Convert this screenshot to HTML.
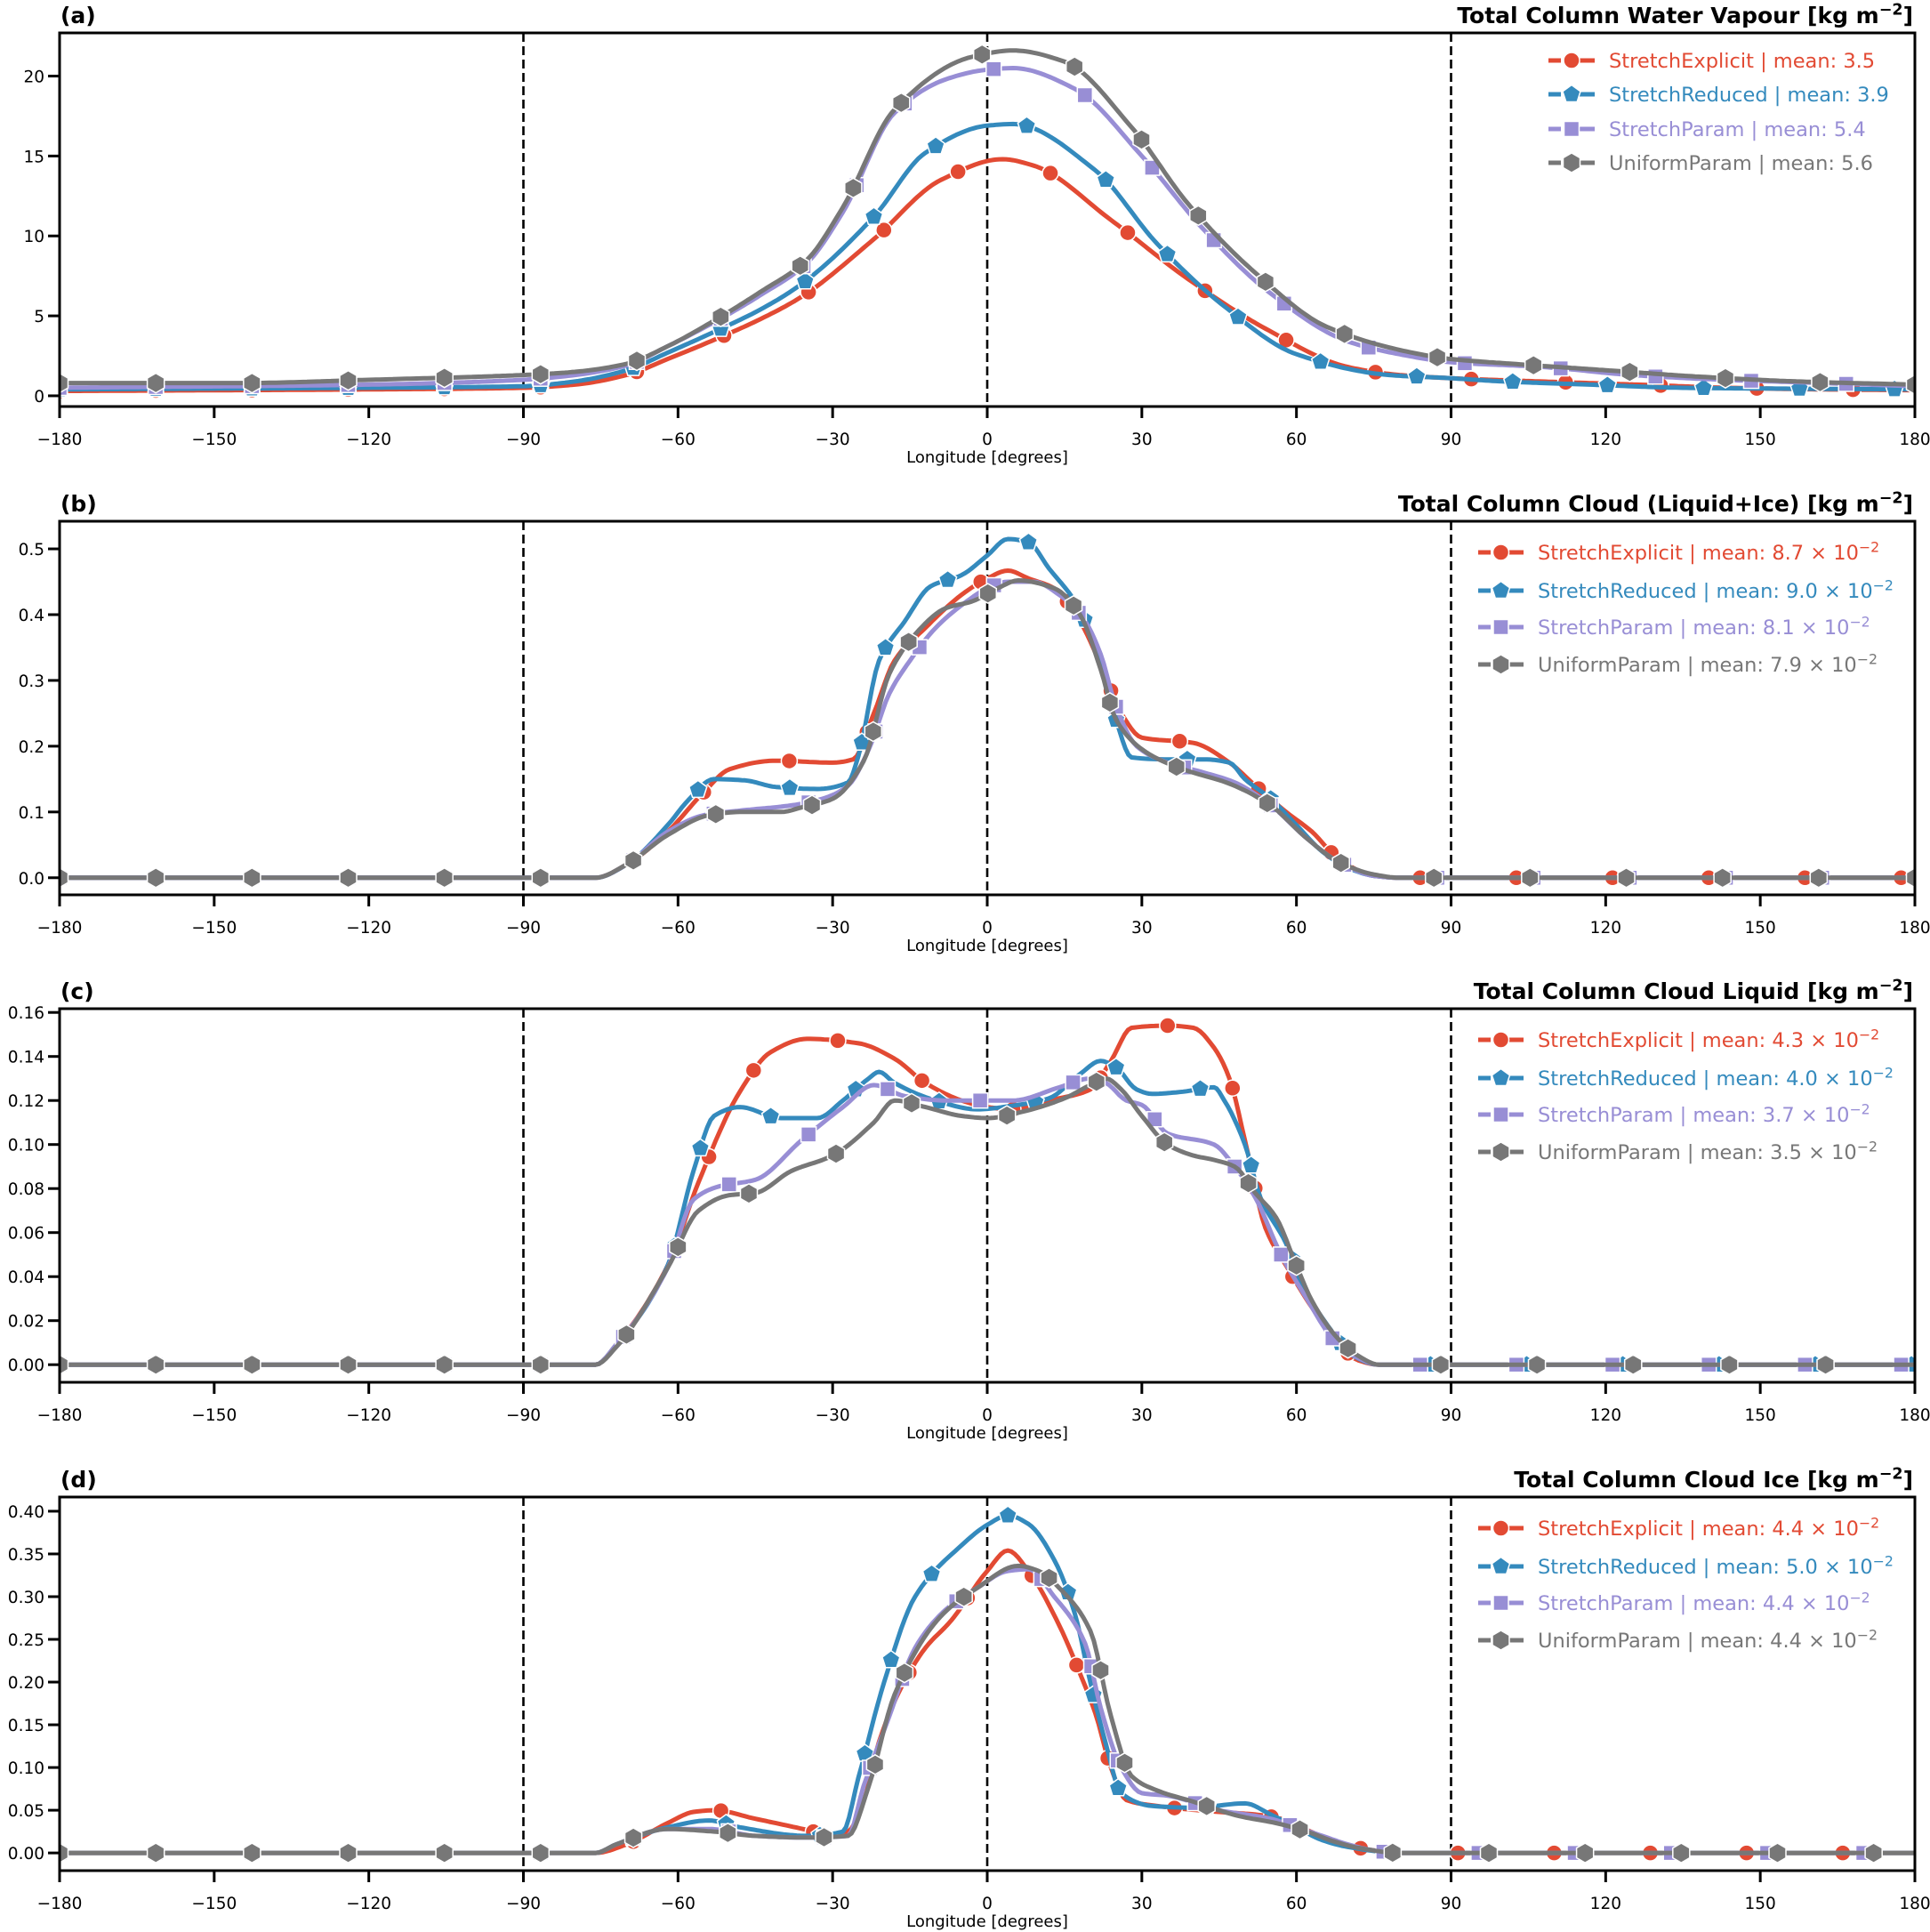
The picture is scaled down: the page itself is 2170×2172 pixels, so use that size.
<!DOCTYPE html>
<html><head><meta charset="utf-8"><style>
html,body{margin:0;padding:0;background:#fff;}
svg{display:block;font-family:"DejaVu Sans","Liberation Sans",sans-serif;}
</style></head><body>
<svg id="fig" width="2170" height="2172" viewBox="0 0 2170 2172" xmlns="http://www.w3.org/2000/svg"></svg>
<script>
// ---------- data ----------
const xTicks = [-180,-150,-120,-90,-60,-30,0,30,60,90,120,150,180];
const vLines = [-90,0,90];
const seriesNames = ["StretchExplicit","StretchReduced","StretchParam","UniformParam"];
const panelLetters = ["(a)","(b)","(c)","(d)"];
const panelTitles = ["Total Column Water Vapour","Total Column Cloud (Liquid+Ice)","Total Column Cloud Liquid","Total Column Cloud Ice"];
const meansA = ["3.5","3.9","5.4","5.6"];
const meansB = ["8.7","9.0","8.1","7.9"];
const meansC = ["4.3","4.0","3.7","3.5"];
const meansD = ["4.4","5.0","4.4","4.4"];
const yTicksA = [0,5,10,15,20];
const yTicksB = [0,0.1,0.2,0.3,0.4,0.5];
const yTicksC = [0,0.02,0.04,0.06,0.08,0.10,0.12,0.14,0.16];
const yTicksD = [0,0.05,0.10,0.15,0.20,0.25,0.30,0.35,0.40];
const yLimA = [-0.67,22.7];
const yLimB = [-0.026,0.542];
const yLimC = [-0.008,0.1617];
const yLimD = [-0.0207,0.4166];

// Panel (a)
const aRedLon = [-180,-120,-90,-80,-70,-62,-53,-44,-36,-22,-9,3,9,24,39,54,70,80,90,107,126,144,162,180];
const aRedVal = [0.3,0.4,0.5,0.7,1.3,2.3,3.5,4.8,6.2,9.8,13.5,14.8,14.4,11.0,7.3,4.2,1.8,1.3,1.1,0.9,0.7,0.5,0.4,0.35];
const aBluLon = [-180,-120,-90,-80,-70,-62,-53,-44,-36,-22,-12,0,5,21,33,46,60,78,90,100,117,135,153,180];
const aBluVal = [0.4,0.5,0.6,0.9,1.6,2.7,4.0,5.4,7.0,11.2,15.2,16.9,17.0,14.1,9.5,5.6,2.6,1.3,1.1,0.9,0.7,0.5,0.45,0.4];
const aPurLon = [-180,-120,-90,-80,-70,-62,-53,-44,-35,-28,-18,-8,0,5,17,30,42,55,70,80,90,108,125,143,162,180];
const aPurVal = [0.5,0.7,1.0,1.3,1.9,3.1,4.6,6.3,8.3,11.5,17.7,19.8,20.4,20.5,19.2,15.0,10.4,6.4,3.4,2.6,2.1,1.8,1.3,1.0,0.8,0.6];
const aGryLon = [-180,-144,-120,-90,-80,-70,-62,-53,-44,-35,-28,-18,-3,5,15,28,39,52,66,84,90,102,120,138,157,180];
const aGryVal = [0.8,0.8,1.0,1.3,1.5,2.0,3.1,4.7,6.5,8.5,11.8,17.9,21.2,21.6,20.9,16.8,12.0,7.7,4.3,2.6,2.3,2.0,1.6,1.2,0.9,0.7];

// Panel (b)
const bRedLon = [-180,-120,-76,-70,-62,-55,-50,-41,-30,-26,-22,-18,-12,-5,0,4,8,13,18,22,26,30,40,47,52,58,63,68,75,80,120,180];
const bRedVal = [0,0,0,0.02,0.07,0.13,0.165,0.178,0.175,0.18,0.25,0.33,0.38,0.43,0.455,0.467,0.455,0.44,0.39,0.324,0.25,0.213,0.205,0.175,0.14,0.10,0.07,0.03,0.003,0,0,0];
const bBluLon = [-180,-120,-76,-70,-62,-58,-53,-47,-41,-33,-27,-25,-21,-16,-11,-5,0,4,8,12,17,22,25,28,35,42,47,50,55,60,65,70,75,80,120,180];
const bBluVal = [0,0,0,0.02,0.08,0.118,0.15,0.148,0.138,0.135,0.145,0.185,0.33,0.39,0.443,0.46,0.49,0.515,0.51,0.47,0.42,0.33,0.24,0.183,0.18,0.18,0.175,0.15,0.12,0.08,0.04,0.015,0.003,0,0,0];
const bPurLon = [-180,-120,-76,-70,-62,-55,-48,-38,-32,-27,-23,-19,-15,-10,-4,0,4,9,14,19,22,25,29,35,42,48,55,62,68,75,80,120,180];
const bPurVal = [0,0,0,0.02,0.07,0.095,0.102,0.11,0.12,0.14,0.195,0.28,0.33,0.38,0.42,0.44,0.45,0.45,0.43,0.39,0.34,0.26,0.2,0.175,0.16,0.145,0.11,0.06,0.025,0.003,0,0,0];
const bGryLon = [-180,-120,-76,-70,-62,-54,-48,-40,-36,-30,-24,-19,-14,-8,-3,2,6,13,18,22,25,31,38,47,55,62,68,75,80,120,180];
const bGryVal = [0,0,0,0.02,0.065,0.095,0.1,0.1,0.107,0.12,0.177,0.31,0.37,0.41,0.42,0.44,0.452,0.44,0.4,0.317,0.24,0.19,0.165,0.143,0.11,0.06,0.025,0.005,0,0,0];

// Panel (c)
const cRedLon = [-180,-120,-76,-72,-62,-56,-48,-42,-35,-25,-18,-12,-5,0,5,12,20,24,28,35,40,44,47,50,54,58,63,68,72,76,120,180];
const cRedVal = [0,0,0,0.009,0.045,0.083,0.124,0.142,0.148,0.146,0.139,0.128,0.12,0.117,0.116,0.12,0.125,0.138,0.153,0.154,0.153,0.144,0.13,0.102,0.062,0.045,0.026,0.01,0.002,0,0,0];
const cBluLon = [-180,-120,-76,-72,-62,-57,-53,-48,-40,-33,-28,-23,-21,-18,-10,-2,6,12,18,22,25,29,32,38,44,46,50,53,58,61,66,71,76,120,180];
const cBluVal = [0,0,0,0.009,0.045,0.088,0.113,0.117,0.112,0.112,0.12,0.13,0.133,0.128,0.12,0.116,0.118,0.121,0.132,0.138,0.135,0.125,0.123,0.124,0.126,0.12,0.1,0.076,0.055,0.037,0.018,0.004,0,0,0];
const cPurLon = [-180,-120,-76,-72,-62,-57,-52,-45,-36,-28,-22,-16,-8,-2,5,14,20,23,27,30,35,44,48,52,57,62,67,72,76,120,180];
const cPurVal = [0,0,0,0.009,0.044,0.075,0.081,0.084,0.102,0.117,0.127,0.122,0.12,0.12,0.12,0.126,0.13,0.128,0.12,0.118,0.105,0.1,0.09,0.076,0.05,0.03,0.012,0.003,0,0,0];
const cGryLon = [-180,-120,-76,-72,-62,-56,-50,-45,-38,-30,-22,-18,-12,-5,0,7,15,20,23,26,30,35,40,44,48,52,56,60,63,68,72,76,120,180];
const cGryVal = [0,0,0,0.008,0.044,0.07,0.077,0.078,0.088,0.095,0.11,0.12,0.117,0.113,0.112,0.115,0.121,0.127,0.13,0.125,0.113,0.1,0.095,0.093,0.09,0.078,0.067,0.045,0.029,0.012,0.004,0,0,0];

// Panel (d)
const dRedLon = [-180,-120,-76,-70,-62,-57,-53,-45,-35,-30,-27,-24,-21,-17,-12,-7,0,4,8,14,18,21,24,27,33,45,52,57,62,68,75,80,120,180];
const dRedVal = [0,0,0,0.01,0.035,0.048,0.05,0.04,0.027,0.02,0.025,0.06,0.13,0.19,0.24,0.272,0.33,0.354,0.33,0.266,0.21,0.163,0.1,0.062,0.055,0.048,0.045,0.04,0.027,0.012,0.003,0,0,0];
const dBluLon = [-180,-120,-76,-72,-62,-54,-48,-35,-28,-25,-20,-14,-5,0,4,8,13,17,20,23,26,32,40,50,55,60,65,70,80,120,180];
const dBluVal = [0,0,0,0.01,0.03,0.038,0.03,0.02,0.025,0.088,0.2,0.3,0.36,0.384,0.395,0.385,0.343,0.28,0.2,0.128,0.07,0.055,0.053,0.058,0.045,0.03,0.015,0.007,0,0,0];
const dPurLon = [-180,-120,-76,-72,-62,-54,-45,-35,-27,-24,-19,-14,-8,-2,4,8,13,19,22,26,30,35,45,55,60,65,70,75,80,120,180];
const dPurVal = [0,0,0,0.01,0.028,0.028,0.02,0.018,0.02,0.078,0.16,0.24,0.285,0.31,0.33,0.332,0.3,0.245,0.17,0.1,0.07,0.067,0.05,0.04,0.03,0.02,0.01,0.003,0,0,0];
const dGryLon = [-180,-120,-76,-72,-62,-53,-45,-35,-27,-23,-18,-9,-2,6,10,14,20,24,28,33,40,49,56,62,67,72,80,120,180];
const dGryVal = [0,0,0,0.01,0.028,0.025,0.02,0.018,0.02,0.078,0.185,0.277,0.31,0.336,0.33,0.31,0.26,0.16,0.09,0.073,0.06,0.043,0.035,0.025,0.014,0.006,0,0,0];

// ---------- rendering ----------
const NS = "http://www.w3.org/2000/svg";
const svg = document.getElementById('fig');
const colors = ["#E24A33","#348ABD","#988ED5","#777777"];
const L = 67, R = 2153, H = 420;
const tops = [37,586,1134,1683];

function mk(tag, attrs, parent){
  const e = document.createElementNS(NS, tag);
  for (const k in attrs) e.setAttribute(k, attrs[k]);
  (parent||svg).appendChild(e);
  return e;
}
function xScale(lon){ return L + (lon+180)/360*(R-L); }
function yScaleFor(top, lim){ return v => top + H - (v-lim[0])/(lim[1]-lim[0])*H; }

function monotone(xs, ys){
  const n = xs.length, d = [], m = new Array(n);
  for (let i=0;i<n-1;i++) d.push((ys[i+1]-ys[i])/(xs[i+1]-xs[i]));
  m[0]=d[0]; m[n-1]=d[n-2];
  for (let i=1;i<n-1;i++){
    if (d[i-1]*d[i] <= 0) m[i]=0;
    else { const w1=2*(xs[i+1]-xs[i])+(xs[i]-xs[i-1]), w2=(xs[i+1]-xs[i])+2*(xs[i]-xs[i-1]);
      m[i]=(w1+w2)/(w1/d[i-1]+w2/d[i]); }
  }
  const pts=[];
  for (let i=0;i<n-1;i++){
    const h=xs[i+1]-xs[i], steps=Math.max(4,Math.round(h*1.5));
    for (let s=0;s<steps;s++){
      const t=s/steps, t2=t*t, t3=t2*t;
      const y=(2*t3-3*t2+1)*ys[i]+(t3-2*t2+t)*h*m[i]+(-2*t3+3*t2)*ys[i+1]+(t3-t2)*h*m[i+1];
      pts.push([xs[i]+t*h, y]);
    }
  }
  pts.push([xs[n-1], ys[n-1]]);
  return pts;
}

function markerShape(k, x, y, g){
  let e;
  if (k===0){ e = mk('circle',{cx:x,cy:y,r:9},g); }
  else if (k===2){ e = mk('rect',{x:x-8.5,y:y-8.5,width:17,height:17},g); }
  else {
    const nside = k===1?5:6, r = k===1?10.5:11, pts=[];
    for (let i=0;i<nside;i++){ const a=-Math.PI/2+i*2*Math.PI/nside; pts.push((x+r*Math.cos(a)).toFixed(1)+','+(y+r*Math.sin(a)).toFixed(1)); }
    e = mk('polygon',{points:pts.join(' ')},g);
  }
  e.setAttribute('fill', colors[k]);
  e.setAttribute('stroke', '#fff');
  e.setAttribute('stroke-width', '1.5');
  return e;
}

function supText(parent, attrs, pre, sup, post, fsize){
  const t = mk('text', attrs, parent);
  t.appendChild(document.createTextNode(pre));
  if (sup){
    const s = mk('tspan',{dy:-fsize*0.38,'font-size':fsize*0.7},t); s.textContent = sup;
    const p = mk('tspan',{dy:fsize*0.38},t); p.textContent = post;
  }
  return t;
}

function drawPanel(i, series, yTicks, lim, means, decimals, sci){
  const top = tops[i], bottom = top+H;
  const ys = yScaleFor(top, lim);
  const g = mk('g',{});
  
  
  const clipId='clip'+i;
  const cp = mk('clipPath',{id:clipId},g); mk('rect',{x:L,y:top,width:R-L,height:H},cp);

  vLines.forEach(v=>{
    const ln = mk('line',{x1:xScale(v),x2:xScale(v),y1:top,y2:bottom,stroke:'#000','stroke-width':2.6,'stroke-dasharray':'10,5'},g);
    
    
  });

  const plot = mk('g',{'clip-path':'url(#'+clipId+')'},g);
  series.forEach((s,k)=>{
    const sg = mk('g',{},plot);
    
    
    const pts = monotone(s[0], s[1]).map(p=>[xScale(p[0]), ys(p[1])]);
    const path = mk('path',{d:'M'+pts.map(p=>p[0].toFixed(1)+','+p[1].toFixed(1)).join('L'),fill:'none',stroke:colors[k],'stroke-width':5,'stroke-linejoin':'round'},sg);
    
    
    const spacing = 106; let acc = spacing;
    for (let j=0;j<pts.length;j++){
      if (j>0){ acc += Math.hypot(pts[j][0]-pts[j-1][0], pts[j][1]-pts[j-1][1]); }
      if (acc >= spacing){ acc = 0;
        const m = markerShape(k, pts[j][0], pts[j][1], sg);
        
        
      }
    }
  });

  const fr = mk('rect',{x:L,y:top,width:R-L,height:H,fill:'none',stroke:'#000','stroke-width':3},g);
  
  

  xTicks.forEach(v=>{
    const x = xScale(v);
    mk('line',{x1:x,x2:x,y1:bottom,y2:bottom+13,stroke:'#000','stroke-width':3},g);
    const t = mk('text',{x:x,y:bottom+43,'text-anchor':'middle','font-size':18.5},g);
    t.textContent = (v<0?'\u2212':'')+Math.abs(v);
    
    
  });
  const xl = mk('text',{x:(L+R)/2,y:bottom+63,'text-anchor':'middle','font-size':18},g);
  xl.textContent = 'Longitude [degrees]';
  
  

  yTicks.forEach(v=>{
    const y = ys(v);
    mk('line',{x1:L-13,x2:L,y1:y,y2:y,stroke:'#000','stroke-width':3},g);
    const t = mk('text',{x:L-17,y:y+7,'text-anchor':'end','font-size':18.5},g);
    t.textContent = v.toFixed(decimals);
    
    
  });

  const lt = mk('text',{x:L+1,y:top-11,'font-size':25,'font-weight':'bold'},g);
  lt.textContent = panelLetters[i];
  
  
  const tt = supText(g,{x:R-2,y:top-11,'font-size':25,'font-weight':'bold','text-anchor':'end'}, panelTitles[i]+' [kg m', '\u22122', ']', 25);
  
  

  const lg = mk('g',{},g);
  
  
  const rows = sci ? [35,78,119,161] : [31,69,108,146];
  const lx0 = sci ? 1662 : 1741, lx1 = sci ? 1713 : 1793, tx = sci ? 1729 : 1809;
  seriesNames.forEach((nm,k)=>{
    const y = top + rows[k];
    const eg = mk('g',{},lg);
    
    
    mk('line',{x1:lx0,x2:lx1,y1:y,y2:y,stroke:colors[k],'stroke-width':5,'stroke-dasharray':'14,4,100'},eg);
    mk('line',{x1:lx1-14,x2:lx1,y1:y,y2:y,stroke:colors[k],'stroke-width':5},eg);
    markerShape(k,(lx0+lx1)/2,y,eg);
    const attrs = {x:tx,y:y+8,'font-size':22.5,fill:colors[k]};
    if (sci) supText(eg, attrs, nm+' | mean: '+means[k]+' \u00d7 10', '\u22122', '', 22.5);
    else { const t = mk('text',attrs,eg); t.textContent = nm+' | mean: '+means[k]; }
  });
}

drawPanel(0, [[aRedLon,aRedVal],[aBluLon,aBluVal],[aPurLon,aPurVal],[aGryLon,aGryVal]], yTicksA, yLimA, meansA, 0, false);
drawPanel(1, [[bRedLon,bRedVal],[bBluLon,bBluVal],[bPurLon,bPurVal],[bGryLon,bGryVal]], yTicksB, yLimB, meansB, 1, true);
drawPanel(2, [[cRedLon,cRedVal],[cBluLon,cBluVal],[cPurLon,cPurVal],[cGryLon,cGryVal]], yTicksC, yLimC, meansC, 2, true);
drawPanel(3, [[dRedLon,dRedVal],[dBluLon,dBluVal],[dPurLon,dPurVal],[dGryLon,dGryVal]], yTicksD, yLimD, meansD, 2, true);
</script>
</body></html>
